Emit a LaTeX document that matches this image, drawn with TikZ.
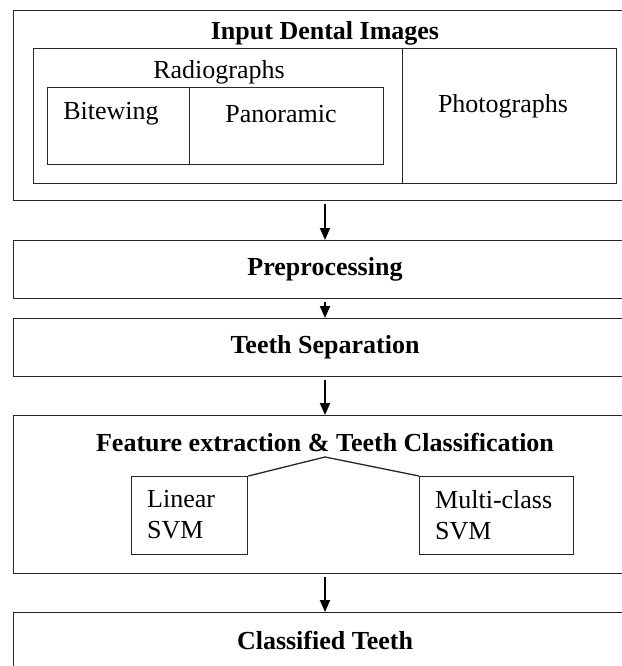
\documentclass[tikz,border=0pt]{standalone}
\usepackage{fontspec}
\setmainfont{Liberation Serif}
\usetikzlibrary{arrows.meta}
\begin{document}
\begin{tikzpicture}[x=1pt,y=-1pt,
  box/.style={draw=black!85,line width=1.3pt,inner sep=0pt,anchor=north west},
  lbl/.style={inner sep=0pt,font=\fontsize{26}{31}\selectfont,text=black},
  blbl/.style={lbl,font=\fontsize{26}{31}\selectfont\bfseries},
  flow/.style={draw=black,line width=1.8pt,-{Triangle[length=12pt,width=10pt]},shorten <=3pt},
  branch/.style={draw=black!85,line width=1.3pt}]
\useasboundingbox (0,0) rectangle (621,666);
\fill[white] (0,0) rectangle (621,666);
\coordinate (ax) at (325,0);
% Input block
\node[box,minimum width=612pt,minimum height=190pt] (outer) at (13,10) {};
\node[blbl] (intitle) at (325,33) {Input Dental Images};
\node[box,minimum width=369pt,minimum height=135pt] (radio) at (33,48) {};
\node[box,minimum width=214pt,minimum height=135pt] (photo) at (402,48) {};
\node[lbl] (radiot) at (219,72) {Radiographs};
\node[lbl] (photot) at (503,106) {Photographs};
\node[box,minimum width=142pt,minimum height=77pt] (bite) at (47,87) {};
\node[box,minimum width=194pt,minimum height=77pt] (pano) at (189,87) {};
\node[lbl] (bitet) at (111,114) {Bitewing};
\node[lbl] (panot) at (281,114) {Panoramic};
% Steps
\node[box,minimum width=612pt,minimum height=58pt] (pre) at (13,240) {};
\node[blbl] (pret) at (325,269) {Preprocessing};
\node[box,minimum width=612pt,minimum height=58pt] (ts) at (13,318) {};
\node[blbl] (tst) at (325,347) {Teeth Separation};
\node[box,minimum width=612pt,minimum height=158pt] (fe) at (13,415) {};
\node[blbl] (fet) at (325,443) {Feature extraction \& Teeth Classification};
\node[box,minimum width=116pt,minimum height=78pt] (lin) at (131,476) {};
\node[box,minimum width=154pt,minimum height=78pt] (mc) at (419,476) {};
\node[lbl,anchor=west,align=left] (lint) at (147,515) {Linear\\SVM};
\node[lbl,anchor=west,align=left] (mct) at (435,515) {Multi-class\\SVM};
\coordinate (apex) at (325,457);
\node[box,minimum width=612pt,minimum height=100pt] (ct) at (13,612) {};
\node[blbl] (ctt) at (325,640) {Classified Teeth};
% connectors
\draw[branch] (lin.north east) -- (apex) -- (mc.north west);
\draw[flow] (ax |- outer.south) -- (ax |- pre.north);
\draw[flow] (ax |- pre.south) -- (ax |- ts.north);
\draw[flow] (ax |- ts.south) -- (ax |- fe.north);
\draw[flow] (ax |- fe.south) -- (ax |- ct.north);
\end{tikzpicture}
\end{document}
